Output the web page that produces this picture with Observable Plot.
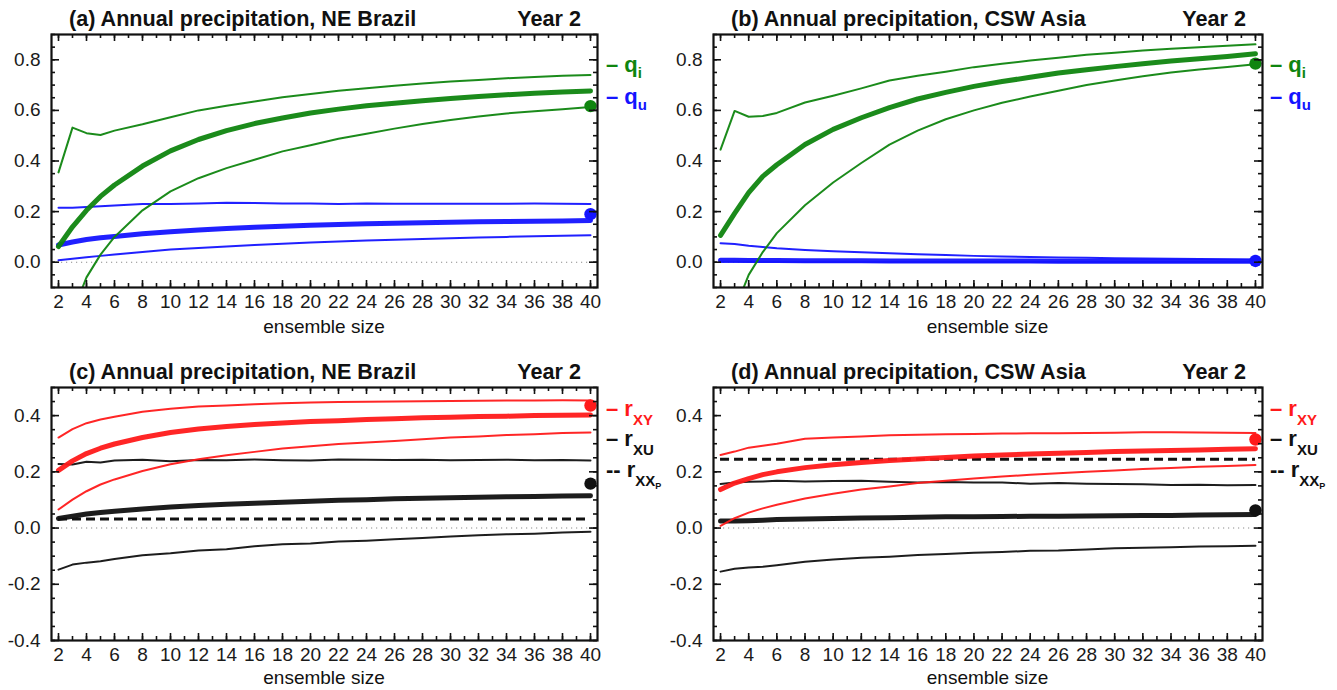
<!DOCTYPE html>
<html>
<head>
<meta charset="utf-8">
<script src="https://cdn.jsdelivr.net/npm/d3@7"></script>
<script src="https://cdn.jsdelivr.net/npm/@observablehq/plot@0.6"></script>
<style>
  html, body { margin: 0; padding: 0; background: #fff; }
  body { font-family: "Liberation Sans", Arial, Helvetica, sans-serif; color: #111; }
  #wrap { position: relative; width: 1337px; height: 690px; overflow: hidden; }
  .panel { position: absolute; }
  .lbl { position: absolute; line-height: 0; white-space: nowrap; }
  .sub { position: relative; }
</style>
</head>
<body>
<div id="wrap"></div>
<script>
// ---------- data ----------
const ensembleSize = [2,3,4,5,6,8,10,12,14,16,18,20,22,24,26,28,30,32,34,36,38,40];
const xTickLabels = [2,4,6,8,10,12,14,16,18,20,22,24,26,28,30,32,34,36,38,40];
const yTickLabelsQ = [0.0, 0.2, 0.4, 0.6, 0.8];
const yTickLabelsR = [-0.4, -0.2, 0.0, 0.2, 0.4];

// (a) NE Brazil, q_i and q_u
const qiUpperA = [0.355,0.532,0.510,0.503,0.520,0.545,0.573,0.600,0.618,0.635,0.652,0.665,0.678,0.688,0.697,0.706,0.714,0.720,0.727,0.732,0.737,0.740];
const qiMedA   = [0.062,0.140,0.205,0.260,0.305,0.380,0.440,0.485,0.520,0.548,0.570,0.590,0.605,0.618,0.628,0.638,0.647,0.655,0.662,0.668,0.673,0.677];
const qiLowerA = [-0.45,-0.20,-0.06,0.030,0.100,0.205,0.280,0.332,0.372,0.405,0.438,0.462,0.488,0.508,0.528,0.546,0.562,0.576,0.588,0.597,0.605,0.613];
const quUpperA = [0.215,0.215,0.218,0.221,0.224,0.230,0.230,0.232,0.235,0.234,0.232,0.232,0.230,0.232,0.231,0.231,0.231,0.231,0.231,0.232,0.231,0.230];
const quMedA   = [0.068,0.080,0.090,0.097,0.102,0.112,0.120,0.127,0.133,0.138,0.142,0.146,0.149,0.152,0.154,0.156,0.158,0.160,0.161,0.162,0.163,0.165];
const quLowerA = [0.008,0.014,0.020,0.025,0.030,0.040,0.050,0.056,0.062,0.068,0.073,0.078,0.082,0.086,0.089,0.092,0.095,0.098,0.100,0.103,0.105,0.107];
const dotsA = [0.617, 0.190]; // q_i, q_u at ensemble size 40

// (b) CSW Asia, q_i and q_u
const qiUpperB = [0.445,0.598,0.575,0.578,0.590,0.631,0.658,0.687,0.718,0.737,0.753,0.771,0.784,0.797,0.808,0.820,0.828,0.837,0.844,0.850,0.856,0.861];
const qiMedB   = [0.106,0.193,0.275,0.339,0.385,0.465,0.525,0.571,0.611,0.645,0.671,0.695,0.714,0.731,0.748,0.761,0.773,0.784,0.795,0.804,0.813,0.824];
const qiLowerB = [-0.45,-0.19,-0.05,0.040,0.115,0.225,0.315,0.392,0.465,0.520,0.565,0.600,0.630,0.655,0.678,0.700,0.718,0.735,0.750,0.762,0.772,0.782];
const quUpperB = [0.075,0.072,0.065,0.060,0.055,0.048,0.043,0.039,0.035,0.031,0.028,0.025,0.023,0.021,0.019,0.018,0.016,0.015,0.014,0.013,0.012,0.011];
const quMedB   = [0.008,0.008,0.007,0.007,0.007,0.006,0.006,0.006,0.005,0.005,0.005,0.005,0.005,0.005,0.004,0.004,0.004,0.004,0.004,0.004,0.004,0.004];
const quLowerB = [0.002,0.002,0.002,0.002,0.002,0.001,0.001,0.001,0.001,0.001,0.001,0.001,0.001,0.001,0.001,0.001,0.001,0.001,0.001,0.001,0.001,0.001];
const dotsB = [0.785, 0.005];

// (c) NE Brazil, r_XY, r_XU, r_XXp
const rxyUpperC = [0.322,0.352,0.373,0.386,0.396,0.414,0.424,0.432,0.436,0.440,0.444,0.447,0.448,0.449,0.450,0.451,0.452,0.453,0.454,0.454,0.455,0.454];
const rxyMedC   = [0.205,0.239,0.265,0.284,0.299,0.322,0.340,0.352,0.361,0.368,0.374,0.379,0.382,0.386,0.389,0.392,0.394,0.397,0.398,0.400,0.401,0.402];
const rxyLowerC = [0.066,0.101,0.131,0.155,0.173,0.203,0.227,0.245,0.259,0.271,0.283,0.291,0.299,0.304,0.310,0.316,0.322,0.326,0.331,0.334,0.338,0.340];
const rxuUpperC = [0.228,0.226,0.236,0.233,0.240,0.243,0.238,0.242,0.241,0.244,0.241,0.240,0.244,0.243,0.242,0.243,0.241,0.242,0.243,0.241,0.242,0.240];
const rxuMedC   = [0.034,0.042,0.050,0.055,0.060,0.068,0.075,0.080,0.085,0.088,0.092,0.095,0.099,0.101,0.104,0.106,0.108,0.110,0.111,0.112,0.114,0.115];
const rxuLowerC = [-0.148,-0.130,-0.123,-0.118,-0.110,-0.097,-0.090,-0.080,-0.075,-0.065,-0.058,-0.055,-0.048,-0.045,-0.040,-0.035,-0.030,-0.026,-0.022,-0.020,-0.016,-0.013];
const rxxpC = 0.032;
const dotsC = [0.436, 0.158]; // r_XY, r_XU

// (d) CSW Asia, r_XY, r_XU, r_XXp
const rxyUpperD = [0.260,0.272,0.286,0.293,0.300,0.318,0.322,0.326,0.330,0.332,0.334,0.335,0.336,0.337,0.337,0.338,0.339,0.341,0.341,0.340,0.339,0.338];
const rxyMedD   = [0.137,0.160,0.176,0.190,0.200,0.215,0.225,0.233,0.240,0.246,0.251,0.256,0.260,0.263,0.266,0.269,0.272,0.274,0.276,0.278,0.280,0.282];
const rxyLowerD = [0.008,0.035,0.055,0.070,0.083,0.105,0.122,0.137,0.148,0.160,0.168,0.176,0.183,0.190,0.195,0.200,0.205,0.210,0.214,0.218,0.221,0.224];
const rxuUpperD = [0.157,0.162,0.165,0.166,0.168,0.166,0.167,0.168,0.165,0.162,0.164,0.162,0.162,0.158,0.160,0.158,0.157,0.156,0.153,0.154,0.152,0.153];
const rxuMedD   = [0.025,0.025,0.026,0.028,0.030,0.032,0.034,0.036,0.037,0.038,0.040,0.040,0.041,0.042,0.042,0.043,0.044,0.045,0.045,0.046,0.047,0.048];
const rxuLowerD = [-0.155,-0.145,-0.140,-0.138,-0.132,-0.120,-0.112,-0.106,-0.102,-0.096,-0.092,-0.088,-0.085,-0.081,-0.080,-0.076,-0.072,-0.070,-0.068,-0.066,-0.065,-0.063];
const rxxpD = 0.245;
const dotsD = [0.315, 0.063];

// ---------- styling ----------
const GREEN = "#0f850f", BLUE = "#1414ff", RED = "#ff1a1a", BLACK = "#111111";
const THICK = 5, THIN = 2;
const FONT = "'Liberation Sans', Arial, Helvetica, sans-serif";
const lastN = ensembleSize[ensembleSize.length - 1];

const xMinor = d3.range(2, 41, 1);
const round2 = v => Math.round(v * 100) / 100;

function rows(values) { return ensembleSize.map((n, i) => ({n, v: values[i]})); }

function makePanel(p) {
  const yMinor = d3.range(p.y[0], p.y[1] + 1e-9, 0.05).map(round2);
  const W = p.width - p.ml - p.mr, H = p.height - p.mt - p.mb;
  const marks = [];
  marks.push(Plot.ruleY([0], {stroke: "#8c8c8c", strokeWidth: 1.1, strokeDasharray: "1.2,3.8"}));
  for (const h of p.rules) {
    marks.push(Plot.ruleY([h], {x1: ensembleSize[0], x2: lastN, stroke: BLACK, strokeWidth: 3, strokeDasharray: "9,5"}));
  }
  for (const s of p.lines) {
    marks.push(Plot.line(rows(s.values), {x: "n", y: "v", stroke: s.color, strokeWidth: s.width, strokeLinejoin: "round", strokeOpacity: 0.95, clip: true}));
  }
  for (const d of p.dots) {
    marks.push(Plot.dot([{n: lastN, v: d.value}], {x: "n", y: "v", r: 6.2, fill: d.color, stroke: null}));
  }
  // inward tick marks on all four sides
  const ts = {stroke: BLACK, strokeWidth: 1.6};
  const minorLen = 4, majorLen = 7;
  marks.push(
    Plot.tickX(xMinor, {x: d => d, insetTop: H - minorLen, ...ts}),
    Plot.tickX(xTickLabels, {x: d => d, insetTop: H - majorLen, ...ts}),
    Plot.tickX(xMinor, {x: d => d, insetBottom: H - minorLen, ...ts}),
    Plot.tickX(xTickLabels, {x: d => d, insetBottom: H - majorLen, ...ts}),
    Plot.tickY(yMinor, {y: d => d, insetRight: W - minorLen, ...ts}),
    Plot.tickY(p.yLabels, {y: d => d, insetRight: W - majorLen - 1, ...ts}),
    Plot.tickY(yMinor, {y: d => d, insetLeft: W - minorLen, ...ts}),
    Plot.tickY(p.yLabels, {y: d => d, insetLeft: W - majorLen - 1, ...ts})
  );
  marks.push(Plot.frame({stroke: BLACK, strokeWidth: 2.2}));
  marks.push(
    Plot.axisX(xTickLabels, {anchor: "bottom", tickSize: 0, tickPadding: 7, fontSize: 19, label: null, fill: "#1a1a1a"}),
    Plot.axisY(p.yLabels, {anchor: "left", tickSize: 0, tickPadding: 11, fontSize: 19, label: null, fill: "#1a1a1a", tickFormat: d => d.toFixed(1)})
  );
  const svg = Plot.plot({
    width: p.width, height: p.height,
    marginLeft: p.ml, marginRight: p.mr, marginTop: p.mt, marginBottom: p.mb,
    x: {domain: [1.5, 40.5]},
    y: {domain: p.y},
    style: {fontFamily: FONT, fontSize: "19px", background: "transparent", overflow: "visible", color: BLACK},
    marks
  });
  svg.classList.add("panel");
  svg.style.left = p.left + "px";
  svg.style.top = p.top + "px";
  return svg;
}

const panels = [
  {left: 0, top: 0, width: 660, height: 340, ml: 51, mr: 63, mt: 34, mb: 53, y: [-0.1, 0.9], yLabels: yTickLabelsQ,
   lines: [
     {values: quLowerA, color: BLUE, width: THIN}, {values: quUpperA, color: BLUE, width: THIN}, {values: quMedA, color: BLUE, width: THICK},
     {values: qiLowerA, color: GREEN, width: THIN}, {values: qiUpperA, color: GREEN, width: THIN}, {values: qiMedA, color: GREEN, width: THICK}],
   dots: [{value: dotsA[0], color: GREEN}, {value: dotsA[1], color: BLUE}], rules: []},
  {left: 660, top: 0, width: 677, height: 340, ml: 53, mr: 75, mt: 34, mb: 53, y: [-0.1, 0.9], yLabels: yTickLabelsQ,
   lines: [
     {values: quLowerB, color: BLUE, width: THIN}, {values: quUpperB, color: BLUE, width: THIN}, {values: quMedB, color: BLUE, width: THICK},
     {values: qiLowerB, color: GREEN, width: THIN}, {values: qiUpperB, color: GREEN, width: THIN}, {values: qiMedB, color: GREEN, width: THICK}],
   dots: [{value: dotsB[0], color: GREEN}, {value: dotsB[1], color: BLUE}], rules: []},
  {left: 0, top: 350, width: 660, height: 340, ml: 51, mr: 63, mt: 37, mb: 50, y: [-0.4, 0.5], yLabels: yTickLabelsR,
   lines: [
     {values: rxuLowerC, color: BLACK, width: THIN}, {values: rxuUpperC, color: BLACK, width: THIN}, {values: rxuMedC, color: BLACK, width: THICK},
     {values: rxyLowerC, color: RED, width: THIN}, {values: rxyUpperC, color: RED, width: THIN}, {values: rxyMedC, color: RED, width: THICK}],
   dots: [{value: dotsC[0], color: RED}, {value: dotsC[1], color: BLACK}], rules: [rxxpC]},
  {left: 660, top: 350, width: 677, height: 340, ml: 53, mr: 75, mt: 37, mb: 50, y: [-0.4, 0.5], yLabels: yTickLabelsR,
   lines: [
     {values: rxuLowerD, color: BLACK, width: THIN}, {values: rxuUpperD, color: BLACK, width: THIN}, {values: rxuMedD, color: BLACK, width: THICK},
     {values: rxyLowerD, color: RED, width: THIN}, {values: rxyUpperD, color: RED, width: THIN}, {values: rxyMedD, color: RED, width: THICK}],
   dots: [{value: dotsD[0], color: RED}, {value: dotsD[1], color: BLACK}], rules: [rxxpD]}
];

const wrap = document.getElementById("wrap");
for (const p of panels) wrap.appendChild(makePanel(p));

// ---------- text (titles, axis titles, legends) ----------
function label(html, x, baseline, fs, opts = {}) {
  const d = document.createElement("div");
  d.className = "lbl";
  d.style.left = x + "px";
  d.style.top = (baseline - 0.3465 * fs) + "px";
  d.style.fontSize = fs + "px";
  if (opts.bold) d.style.fontWeight = "bold";
  d.style.color = opts.color || BLACK;
  if (opts.anchor === "end") d.style.transform = "translateX(-100%)";
  if (opts.anchor === "middle") d.style.transform = "translateX(-50%)";
  d.innerHTML = html;
  wrap.appendChild(d);
}
const titles = [
  {t: "(a) Annual precipitation, NE Brazil", x: 69, y: 26.5, yr: 581},
  {t: "(b) Annual precipitation, CSW Asia", x: 731, y: 26.5, yr: 1246},
  {t: "(c) Annual precipitation, NE Brazil", x: 69, y: 379, yr: 581},
  {t: "(d) Annual precipitation, CSW Asia", x: 731, y: 379, yr: 1246}
];
for (const t of titles) {
  label(t.t, t.x, t.y, 21.6, {bold: true});
  label("Year 2", t.yr, t.y, 21.6, {bold: true, anchor: "end"});
}
label("ensemble size", 324, 334, 19, {anchor: "middle"});
label("ensemble size", 987.5, 334, 19, {anchor: "middle"});
label("ensemble size", 324, 685, 19, {anchor: "middle"});
label("ensemble size", 987.5, 685, 19, {anchor: "middle"});

const sub = (s, dy, fs) => `<span class="sub" style="top:${dy}px;font-size:${fs}px">${s}</span>`;
for (const lx of [606, 1270]) {
  label(`– q${sub("i", 6, 15)}`, lx, 73, 22, {bold: true, color: GREEN});
  label(`– q${sub("u", 6, 15)}`, lx, 105, 22, {bold: true, color: BLUE});
  label(`– r${sub("XY", 9, 15)}`, lx, 417, 22, {bold: true, color: RED});
  label(`– r${sub("XU", 9, 15)}`, lx, 447, 22, {bold: true, color: BLACK});
  label(`-- r${sub("XX" + sub("P", 3, 9), 9, 15)}`, lx, 478, 22, {bold: true, color: BLACK});
}
</script>
</body>
</html>
